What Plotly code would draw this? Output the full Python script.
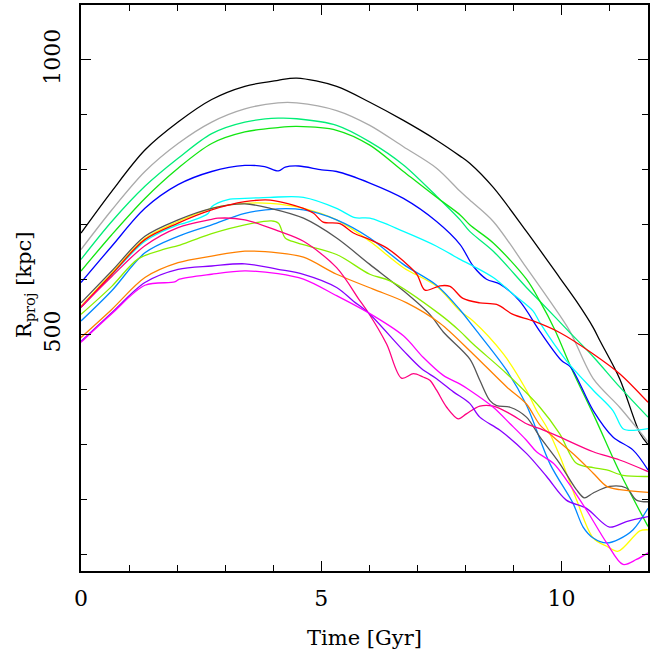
import plotly.graph_objects as go

# ---- data (time in Gyr, projected radius in kpc) ----
t_black = [0, 0.64, 1.33, 2.02, 2.72, 3.41, 4.1, 4.49, 5.32, 6.01, 6.71, 7.40, 7.89, 8.09, 8.58, 9.27, 9.96, 10.31, 10.66, 10.8, 11.21, 11.63, 11.8]
r_black = [685, 761, 836, 887, 928, 952, 963, 967, 952, 923, 890, 854, 825, 812, 768, 688, 604, 561, 513, 489, 420, 321, 300]

t_gray = [0, 0.64, 1.33, 2.02, 2.72, 3.41, 4.1, 4.49, 5.32, 6.01, 6.71, 7.40, 7.89, 8.09, 8.58, 9.27, 9.76, 10.17, 10.66, 11.21, 11.8]
r_gray = [655, 727, 797, 848, 887, 911, 922, 922, 908, 881, 842, 803, 761, 745, 706, 622, 561, 507, 420, 368, 305]

t_spring = [0, 0.64, 1.33, 2.02, 2.72, 3.41, 4.1, 4.49, 5.32, 6.01, 6.71, 7.40, 7.89, 8.09, 8.58, 9.27, 9.55, 10.14, 10.66, 11.21, 11.8]
r_spring = [637, 706, 770, 821, 866, 887, 894, 893, 881, 851, 809, 752, 709, 688, 652, 586, 561, 507, 460, 405, 350]

t_green = [0, 0.64, 1.33, 2.02, 2.72, 3.41, 4.1, 4.49, 5.32, 6.01, 6.71, 7.40, 7.89, 8.09, 8.58, 9.27, 9.55, 9.86, 10.2, 10.69, 11.21, 11.8]
r_green = [616, 682, 748, 803, 848, 869, 877, 879, 872, 845, 797, 750, 718, 700, 667, 601, 561, 509, 440, 350, 250, 151]

t_blue = [0, 0.64, 1.33, 2.02, 2.72, 3.41, 3.82, 4.11, 4.25, 4.53, 5.01, 5.32, 6.01, 6.71, 7.40, 7.89, 8.16, 8.44, 8.72, 9.13, 9.55, 10.0, 10.19, 10.66, 11.07, 11.49, 11.8]
r_blue = [595, 661, 730, 773, 797, 808, 806, 798, 805, 807, 800, 797, 776, 748, 706, 664, 625, 601, 592, 561, 506, 453, 441, 362, 314, 290, 254]

t_cyan = [0, 0.64, 1.33, 2.02, 2.16, 2.65, 2.72, 3.06, 3.41, 3.94, 4.63, 5.32, 5.70, 6.01, 6.71, 7.40, 7.89, 8.16, 8.58, 8.99, 9.41, 9.55, 10.10, 10.66, 11.07, 11.28, 11.5, 11.8]
r_cyan = [550, 609, 670, 700, 703, 721, 733, 746, 748, 750, 750, 730, 713, 712, 688, 661, 637, 625, 604, 574, 543, 522, 453, 399, 362, 329, 326, 329]

t_red = [0, 0.64, 1.33, 2.02, 2.72, 3.41, 3.94, 4.63, 4.84, 5.04, 5.39, 5.67, 6.01, 6.36, 6.71, 6.99, 7.16, 7.47, 7.68, 7.95, 8.30, 8.65, 8.99, 9.41, 9.96, 10.66, 11.21, 11.8]
r_red = [550, 610, 673, 703, 727, 742, 745, 730, 721, 705, 702, 685, 673, 658, 634, 610, 581, 589, 588, 566, 558, 555, 537, 525, 504, 465, 429, 377]

t_yellow = [0, 0.64, 1.33, 2.02, 2.72, 3.41, 3.94, 4.63, 5.32, 6.01, 6.71, 7.40, 7.89, 8.16, 8.79, 9.27, 9.48, 9.69, 9.96, 10.31, 10.66, 10.94, 11.18, 11.63, 11.8]
r_yellow = [552, 612, 675, 706, 730, 739, 739, 730, 709, 670, 622, 588, 543, 525, 465, 399, 362, 332, 280, 200, 130, 115, 106, 143, 145]

t_dgray = [0, 0.64, 1.33, 2.02, 2.72, 3.41, 3.94, 4.63, 5.32, 6.01, 6.71, 7.26, 7.54, 8.09, 8.30, 8.51, 8.65, 8.93, 9.27, 9.55, 9.96, 10.31, 10.48, 10.66, 11.0, 11.35, 11.56, 11.8]
r_dgray = [558, 616, 679, 709, 730, 738, 730, 712, 676, 628, 580, 537, 505, 456, 417, 380, 371, 368, 350, 314, 266, 218, 203, 212, 224, 221, 199, 196]

t_dodger = [0, 0.64, 1.33, 2.02, 2.72, 3.41, 4.1, 4.63, 5.32, 6.01, 6.71, 7.40, 7.89, 8.16, 8.86, 9.27, 9.76, 10.24, 10.45, 10.66, 10.94, 11.2, 11.49, 11.8]
r_dodger = [525, 580, 649, 679, 700, 721, 729, 727, 709, 676, 628, 590, 545, 515, 435, 372, 265, 193, 150, 130, 121, 128, 145, 184]

t_chart = [0, 0.64, 1.19, 1.75, 2.02, 2.37, 2.72, 3.41, 3.96, 4.11, 4.25, 4.5, 5.32, 6.01, 6.43, 7.47, 7.88, 8.16, 8.86, 9.55, 9.96, 10.31, 10.66, 10.94, 11.28, 11.8]
r_chart = [537, 588, 638, 656, 662, 673, 684, 700, 707, 703, 676, 667, 646, 610, 598, 537, 507, 483, 429, 368, 320, 266, 258, 254, 244, 242]

t_orange = [0, 0.64, 1.33, 2.02, 2.72, 3.41, 4.1, 4.63, 5.32, 6.08, 6.78, 7.47, 8.16, 8.86, 9.27, 9.55, 9.83, 10.31, 10.66, 10.94, 11.21, 11.8]
r_orange = [495, 546, 604, 631, 643, 652, 649, 641, 610, 583, 558, 521, 465, 405, 374, 336, 314, 278, 248, 224, 218, 213]

t_dpink = [0, 0.64, 1.33, 2.02, 2.72, 2.85, 3.41, 4.1, 4.63, 5.32, 5.81, 5.98, 6.36, 6.67, 6.92, 7.12, 7.26, 7.40, 7.61, 7.85, 8.02, 8.30, 8.58, 8.93, 9.27, 9.55, 9.96, 10.66, 11.21, 11.8]
r_dpink = [550, 606, 662, 695, 710, 712, 709, 689, 670, 622, 561, 540, 483, 421, 429, 423, 417, 399, 368, 347, 356, 370, 370, 356, 338, 329, 314, 287, 272, 251]

t_purple = [0, 0.64, 1.33, 2.02, 2.72, 3.41, 4.1, 4.63, 5.32, 5.67, 5.98, 6.71, 7.09, 7.40, 7.75, 8.09, 8.30, 8.72, 9.27, 9.69, 10.10, 10.52, 11.0, 11.35, 11.8]
r_purple = [488, 540, 595, 619, 625, 629, 619, 610, 586, 561, 540, 471, 438, 420, 396, 375, 350, 326, 284, 242, 199, 184, 150, 160, 169]

t_magenta = [0, 0.64, 1.33, 1.95, 2.05, 2.72, 3.41, 4.1, 4.63, 5.32, 5.98, 6.71, 7.12, 7.54, 7.89, 8.09, 8.58, 8.93, 9.27, 9.48, 9.83, 10.10, 10.52, 10.94, 11.28, 11.56, 11.8]
r_magenta = [486, 538, 590, 596, 601, 610, 616, 611, 601, 571, 540, 498, 459, 426, 410, 399, 368, 338, 308, 287, 266, 236, 181, 121, 82, 91, 103]

series = [
    (t_black, r_black, "#000000"),
    (t_gray, r_gray, "#aaaaaa"),
    (t_spring, r_spring, "#00ee77"),
    (t_green, r_green, "#11e611"),
    (t_blue, r_blue, "#0000ff"),
    (t_cyan, r_cyan, "#00ffff"),
    (t_yellow, r_yellow, "#ffff00"),
    (t_dodger, r_dodger, "#0088ff"),
    (t_dgray, r_dgray, "#555555"),
    (t_chart, r_chart, "#88ee00"),
    (t_red, r_red, "#ff0000"),
    (t_orange, r_orange, "#ff8000"),
    (t_dpink, r_dpink, "#ff0080"),
    (t_purple, r_purple, "#8800ff"),
    (t_magenta, r_magenta, "#ff00ff"),
]

fig = go.Figure()
for t, r, c in series:
    fig.add_trace(go.Scatter(x=t, y=r, mode="lines",
                             line=dict(color=c, width=1.3, shape="spline", smoothing=0.9),
                             showlegend=False, hoverinfo="skip"))

font_family = "DejaVu Serif"
axis_common = dict(
    showline=True, linecolor="black", linewidth=1.5, mirror="ticks",
    ticks="inside", ticklen=10, tickwidth=1.3, tickcolor="black",
    showgrid=False, zeroline=False,
    tickfont=dict(family=font_family, size=22, color="black"),
)

fig.update_xaxes(range=[0, 11.8], tick0=0, dtick=5,
                 minor=dict(dtick=1, ticklen=6, ticks="inside", tickcolor="black", tickwidth=1.3, showgrid=False),
                 title=dict(text="Time [Gyr]", font=dict(family=font_family, size=21, color="black"), standoff=20),
                 ticklabelstandoff=7,
                 **axis_common)
fig.update_yaxes(range=[70, 1100], tick0=0, dtick=500, tickangle=-90,
                 minor=dict(dtick=100, ticklen=6, ticks="inside", tickcolor="black", tickwidth=1.3, showgrid=False),
                 ticklabelstandoff=10,
                 **axis_common)

# y-axis title placed as a rotated annotation to match the reference position
fig.add_annotation(text="R<sub>proj</sub> [kpc]", textangle=-90,
                   xref="paper", yref="paper", x=(25 - 81) / 567, y=0.505,
                   xanchor="center", yanchor="middle", showarrow=False,
                   font=dict(family=font_family, size=21, color="black"))

fig.update_layout(
    width=664, height=653,
    margin=dict(l=81, r=16, t=3, b=82),
    plot_bgcolor="white", paper_bgcolor="white",
)

fig.write_html("out.html")
